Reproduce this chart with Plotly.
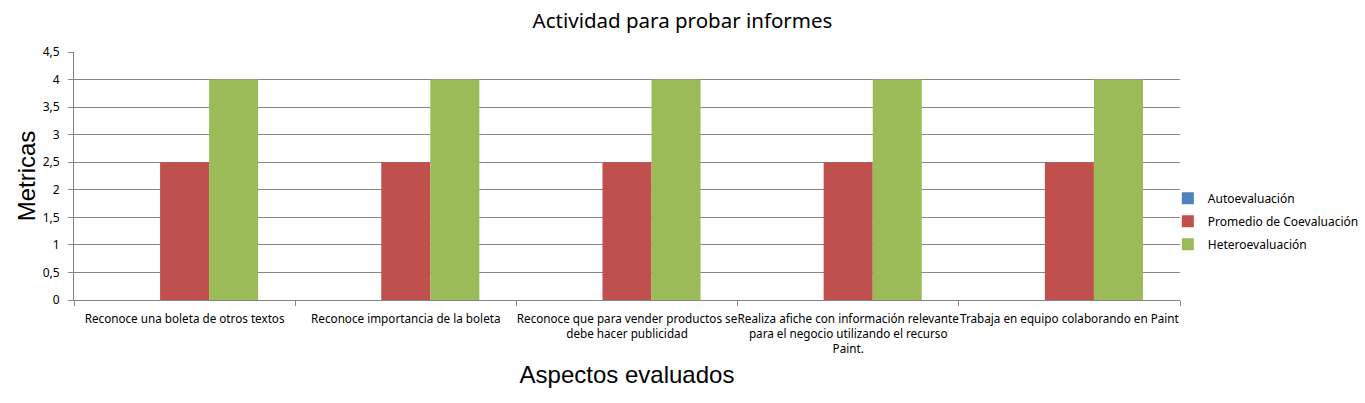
import plotly.graph_objects as go

categories = [
    "Reconoce una boleta de otros textos",
    "Reconoce importancia de la boleta",
    "Reconoce que para vender productos se<br>debe hacer publicidad",
    "Realiza afiche con información relevante<br>para el negocio utilizando el recurso<br>Paint.",
    "Trabaja en equipo colaborando en Paint",
]
series_names = ["Autoevaluación", "Promedio de Coevaluación", "Heteroevaluación"]
auto_vals = [0, 0, 0, 0, 0]
coev_vals = [2.5, 2.5, 2.5, 2.5, 2.5]
hetero_vals = [4, 4, 4, 4, 4]
y_ticks = [0, 0.5, 1, 1.5, 2, 2.5, 3, 3.5, 4, 4.5]

colors = ["#4F81BD", "#C0504D", "#9BBB59"]
values = [auto_vals, coev_vals, hetero_vals]

fig = go.Figure()
for i, (name, vals) in enumerate(zip(series_names, values)):
    fig.add_trace(go.Bar(
        x=categories, y=vals, name=name,
        marker=dict(color=colors[i], line=dict(width=0)),
        legendgroup=f"g{i}",
    ))

axis_color = "#868686"
fig.update_layout(
    width=1365, height=403,
    margin=dict(l=74, r=185, t=52, b=103, autoexpand=False),
    paper_bgcolor="white", plot_bgcolor="white",
    separators=", ",
    barmode="group", bargap=0.335, bargroupgap=0,
    font=dict(family="Noto Sans", size=11, color="#000000"),
    title=dict(text="Actividad para probar informes", x=0.5, xref="container",
               xanchor="center",
               y=1 - 21 / 403, yref="container", yanchor="middle",
               font=dict(family="Noto Sans", size=20.5, color="#000000")),
    legend=dict(x=0.989, xanchor="left", y=0.318, yanchor="middle",
                font=dict(family="Noto Sans", size=12),
                tracegroupgap=4, traceorder="grouped",
                itemwidth=30, bgcolor="rgba(0,0,0,0)"),
    xaxis=dict(
        type="category", tickson="boundaries", ticks="outside", ticklen=5,
        tickcolor=axis_color, showline=True, linecolor=axis_color, linewidth=1,
        showgrid=False, tickangle=0, tickfont=dict(size=11.7),
        ticklabelstandoff=8,
        title=dict(text="Aspectos evaluados", standoff=10,
                   font=dict(family="Liberation Sans", size=24)),
    ),
    yaxis=dict(
        range=[0, 4.5], tickvals=y_ticks, ticks="outside", ticklen=5,
        tickcolor=axis_color, showline=True, linecolor=axis_color, linewidth=1,
        showgrid=True, gridcolor=axis_color, gridwidth=1, zeroline=False,
        tickfont=dict(size=12), ticklabelstandoff=6,
        title=dict(text="Metricas", standoff=0,
                   font=dict(family="Liberation Sans", size=24)),
    ),
)

fig.write_html("out.html")
